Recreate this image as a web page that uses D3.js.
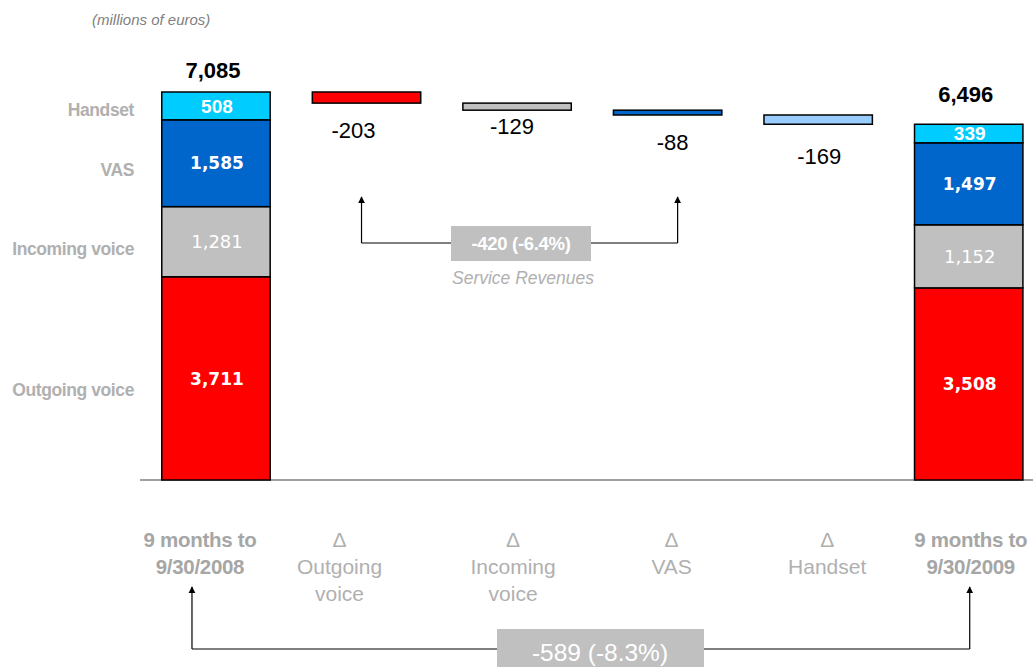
<!DOCTYPE html>
<html><head><meta charset="utf-8">
<script src="https://cdn.jsdelivr.net/npm/d3@7"></script>
<style>body{margin:0;background:#fff}svg{display:block}</style>
</head><body>
<svg id="c" width="1033" height="667"></svg>
<script>
// ---- data ----
const categories = ["9 months to|9/30/2008", "Δ|Outgoing|voice", "Δ|Incoming|voice", "Δ|VAS", "Δ|Handset", "9 months to|9/30/2009"];
const segments = ["Outgoing voice", "Incoming voice", "VAS", "Handset"];
const values2008 = [3711, 1281, 1585, 508];
const values2009 = [3508, 1152, 1497, 339];
const deltas = [-203, -129, -88, -169];
const totals = [7085, 6496];
const serviceDelta = "-420 (-6.4%)";
const totalDelta = "-589 (-8.3%)";

const colors = ["#ff0000", "#c0c0c0", "#0066cc", "#00ccff"];
const deltaColors = ["#ff0000", "#c0c0c0", "#0066cc", "#99ccff"];

const svg = d3.select("#c");
const x = d3.scaleBand().domain(categories).range([140.7, 1044]).paddingInner(0.28).paddingOuter(0.14);
const y = d3.scaleLinear().domain([0, 7085]).range([480, 92]);
const bw = x.bandwidth();
const SANS = "Liberation Sans, Arial, sans-serif";

svg.append("defs").append("marker").attr("id", "ah").attr("viewBox", "0 0 10 10")
  .attr("refX", 9).attr("refY", 5).attr("markerWidth", 7).attr("markerHeight", 9)
  .attr("markerUnits", "userSpaceOnUse").attr("orient", "auto")
  .append("path").attr("d", "M0,0L10,5L0,10Z").attr("fill", "#000");

svg.append("text").attr("x", 92).attr("y", 25).attr("font-family", SANS)
  .attr("font-style", "italic").attr("font-size", 15).attr("fill", "#7f7f7f").text("(millions of euros)");

// baseline
svg.append("line").attr("x1", 140).attr("x2", 1033).attr("y1", y(0)).attr("y2", y(0))
  .attr("stroke", "#808080").attr("stroke-width", 1.5);

function stack(vals, cat, totalIdx) {
  let acc = 0;
  const segs = vals.map((v, i) => { const s = { v, i, y0: acc, y1: acc + v }; acc += v; return s; });
  const g = svg.append("g");
  g.selectAll("rect").data(segs).join("rect")
    .attr("x", x(cat)).attr("width", bw)
    .attr("y", d => y(d.y1)).attr("height", d => y(d.y0) - y(d.y1))
    .attr("fill", d => colors[d.i]).attr("stroke", "#000").attr("stroke-width", 1.5);
  g.selectAll("text").data(segs).join("text")
    .attr("x", x(cat) + bw / 2 + 1).attr("y", d => (y(d.y0) + y(d.y1)) / 2)
    .attr("dy", "0.36em").attr("text-anchor", "middle").attr("fill", "#fff")
    .attr("font-family", d => d.i === 3 ? SANS : "DejaVu Sans, Verdana, sans-serif")
    .attr("font-weight", d => d.i === 1 ? "normal" : "bold")
    .attr("font-size", d => d.i === 3 ? 19 : (d.i === 1 ? 18 : 17))
    .text(d => d3.format(",")(d.v));
  const totalOffset = [14, 22][totalIdx];
  svg.append("text").attr("x", x(cat) + bw / 2 - 3).attr("y", y(totals[totalIdx]) - totalOffset)
    .attr("text-anchor", "middle").attr("font-family", SANS)
    .attr("font-weight", "bold").attr("font-size", 22).attr("fill", "#000").text(d3.format(",")(totals[totalIdx]));
  return segs;
}
const segL = stack(values2008, categories[0], 0);
stack(values2009, categories[5], 1);

// segment names on the left
const nameOffsets = [18, 13, 13, 10];
svg.append("g").selectAll("text").data(segL).join("text")
  .attr("x", 134).attr("y", d => (y(d.y0) + y(d.y1)) / 2 + nameOffsets[d.i])
  .attr("text-anchor", "end").attr("font-family", SANS)
  .attr("font-weight", "bold").attr("font-size", 17.5).attr("letter-spacing", -0.4).attr("fill", "#b0b0b0")
  .text(d => segments[d.i]);

// delta bars (waterfall)
let level = totals[0];
const dsegs = deltas.map((v, i) => { const s = { v, i, top: level, bot: level + v, cat: categories[i + 1] }; level += v; return s; });
svg.append("g").selectAll("rect").data(dsegs).join("rect")
  .attr("x", d => x(d.cat)).attr("width", bw)
  .attr("y", d => y(d.top)).attr("height", d => y(d.bot) - y(d.top))
  .attr("fill", d => deltaColors[d.i]).attr("stroke", "#000").attr("stroke-width", 1.5);
const dLabelOff = [35, 24, 35, 40];
const dLabelDx = [-13, -5, 5, 1];
svg.append("g").selectAll("text").data(dsegs).join("text")
  .attr("x", d => x(d.cat) + bw / 2 + dLabelDx[d.i]).attr("y", d => y(d.bot) + dLabelOff[d.i])
  .attr("text-anchor", "middle").attr("font-family", SANS)
  .attr("font-size", 22).attr("fill", "#000").text(d => d.v);

// category labels
const catDx = [-16, -27, -4, 4, 9, 2];
categories.forEach((c, i) => {
  const lines = c.split("|");
  const bold = i === 0 || i === 5;
  const t = svg.append("text").attr("text-anchor", "middle")
    .attr("font-family", SANS)
    .attr("font-weight", bold ? "bold" : "normal").attr("font-size", bold ? 20.5 : 21)
    .attr("letter-spacing", bold ? -0.3 : 0)
    .attr("fill", bold ? "#a6a6a6" : "#b0b0b0");
  lines.forEach((l, j) => {
    t.append("tspan").attr("x", x(c) + bw / 2 + catDx[i]).attr("y", 547 + j * 27).text(l);
  });
});

// service revenue annotation
const ax1 = x(categories[1]) + bw / 2 - 5, ax2 = x(categories[3]) + bw / 2 + 10;
svg.append("path").attr("d", `M${ax1},243V197`).attr("stroke", "#000").attr("stroke-width", 1.2).attr("fill", "none").attr("marker-end", "url(#ah)");
svg.append("path").attr("d", `M${ax2},243V197`).attr("stroke", "#000").attr("stroke-width", 1.2).attr("fill", "none").attr("marker-end", "url(#ah)");
svg.append("line").attr("x1", ax1).attr("x2", ax2).attr("y1", 243).attr("y2", 243).attr("stroke", "#000").attr("stroke-width", 1.2);
svg.append("rect").attr("x", 451).attr("y", 226).attr("width", 140).attr("height", 35).attr("fill", "#c0c0c0");
svg.append("text").attr("x", 521).attr("y", 250).attr("text-anchor", "middle").attr("fill", "#fff")
  .attr("font-family", SANS).attr("font-weight", "bold").attr("font-size", 18.5)
  .attr("letter-spacing", -0.3).text(serviceDelta);
svg.append("text").attr("x", 523).attr("y", 284).attr("text-anchor", "middle").attr("fill", "#b0b0b0")
  .attr("font-family", SANS).attr("font-style", "italic").attr("font-size", 17.5)
  .text("Service Revenues");

// total annotation
const bx1 = x(categories[0]) + bw / 2 - 24, bx2 = x(categories[5]) + bw / 2 + 1;
svg.append("path").attr("d", `M${bx1},649V587`).attr("stroke", "#000").attr("stroke-width", 1.2).attr("fill", "none").attr("marker-end", "url(#ah)");
svg.append("path").attr("d", `M${bx2},649V587`).attr("stroke", "#000").attr("stroke-width", 1.2).attr("fill", "none").attr("marker-end", "url(#ah)");
svg.append("line").attr("x1", bx1).attr("x2", bx2).attr("y1", 649).attr("y2", 649).attr("stroke", "#000").attr("stroke-width", 1.2);
svg.append("rect").attr("x", 497).attr("y", 629).attr("width", 207).attr("height", 40).attr("fill", "#c0c0c0");
svg.append("text").attr("x", 600).attr("y", 661).attr("text-anchor", "middle").attr("fill", "#fff")
  .attr("font-family", SANS).attr("font-size", 24.5)
  .text(totalDelta);
</script>
</body></html>
